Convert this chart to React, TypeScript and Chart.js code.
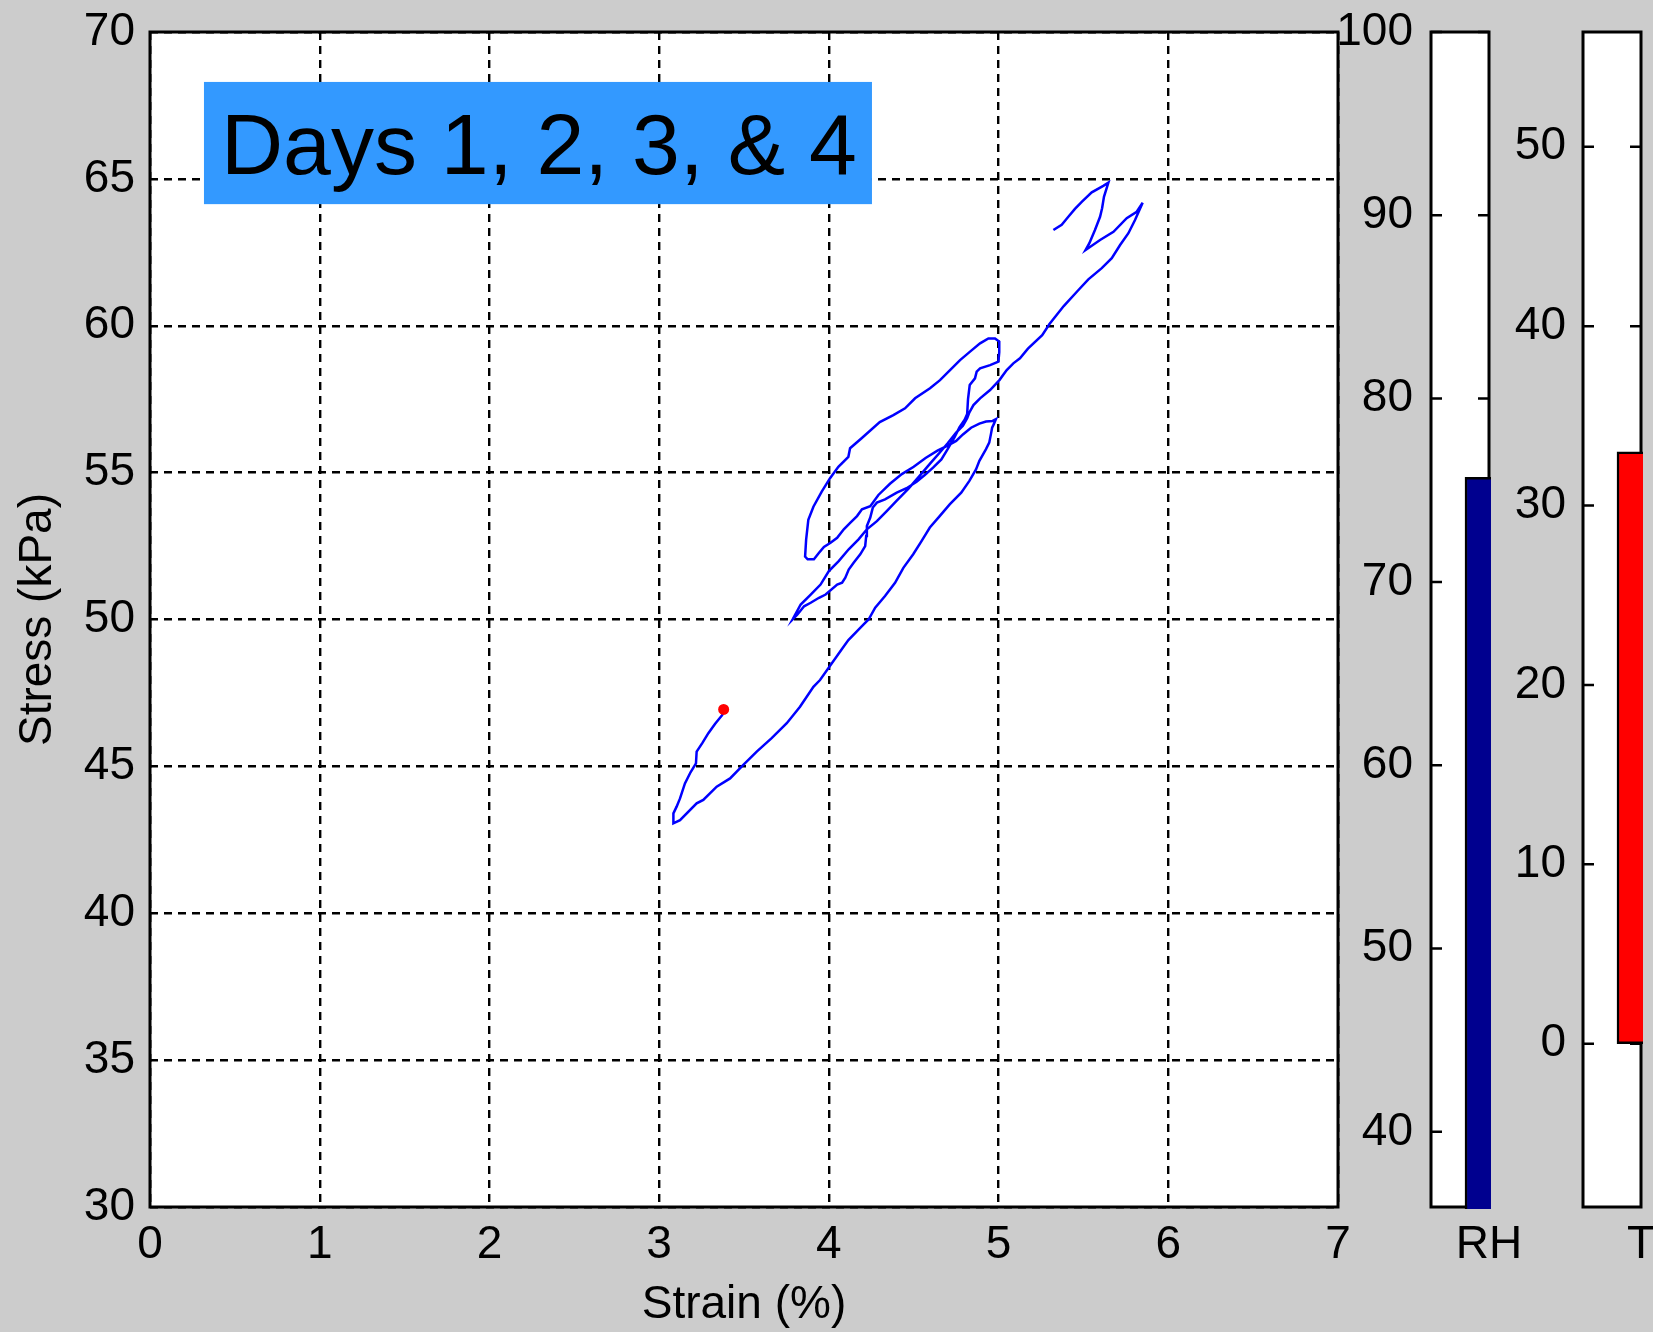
import React, { useEffect, useRef } from 'react';
import { Chart, registerables } from 'chart.js';

Chart.register(...registerables);

// ---------------- data ----------------
const strainPct: number[] = [
  // day 1 start (upper right zig-zag) and long descent
  5.323, 5.372, 5.411, 5.45, 5.49, 5.549, 5.617, 5.647, 5.621, 5.61, 5.598, 5.568, 5.535, 5.513,
  5.598, 5.677, 5.755, 5.814, 5.849, 5.804, 5.765, 5.716, 5.667, 5.608, 5.529, 5.468, 5.384, 5.3,
  5.257, 5.173, 5.126, 5.087, 5.048, 5.005, 4.95, 4.891, 4.852, 4.828,
  // down strand
  4.815, 4.79, 4.75, 4.7, 4.65, 4.6, 4.536, 4.468, 4.4, 4.341, 4.283, 4.224, 4.175, 4.117, 4.058,
  4.0, 3.951, 3.893, 3.834, 3.786,
  // up strand
  3.815, 3.854, 3.893, 3.942, 3.981, 4.049, 4.078, 4.097, 4.117, 4.146, 4.185, 4.214, 4.22, 4.224,
  4.244, 4.259, 4.283, 4.331, 4.4, 4.458, 4.517, 4.565, 4.614, 4.663, 4.7, 4.74, 4.77, 4.8, 4.815,
  4.82, 4.83,
  // upper loop
  4.861, 4.871, 4.891, 4.95, 4.999, 5.004, 5.004, 4.979, 4.94, 4.891, 4.832, 4.773, 4.714, 4.655,
  4.596, 4.508, 4.449, 4.38, 4.3, 4.193, 4.125, 4.115, 4.056, 4.007, 3.958, 3.909, 3.879, 3.866,
  3.86, 3.875, 3.912,
  // strand to the right loop
  3.942, 3.971, 4.01, 4.049, 4.088, 4.127, 4.166, 4.195, 4.244, 4.292, 4.36, 4.43, 4.5, 4.57, 4.64,
  4.7, 4.75, 4.79, 4.838, 4.887, 4.926, 4.965, 4.984,
  // right loop descent to the lowest point
  4.972, 4.962, 4.955, 4.945, 4.926, 4.887, 4.867, 4.828, 4.78, 4.712, 4.653, 4.595, 4.546, 4.497,
  4.439, 4.39, 4.331, 4.273, 4.234, 4.205, 4.115, 4.076, 3.948, 3.909, 3.83, 3.752, 3.663, 3.575,
  3.496, 3.418, 3.339, 3.26, 3.221, 3.123, 3.084,
  // final climb
  3.084, 3.103, 3.123, 3.152, 3.185, 3.217, 3.221, 3.255, 3.29, 3.33, 3.372, 3.38,
];

const stressKPa: number[] = [
  63.26, 63.44, 63.71, 63.98, 64.22, 64.54, 64.76, 64.87, 64.39, 64.0, 63.71, 63.26, 62.81, 62.58,
  62.92, 63.2, 63.66, 63.88, 64.19, 63.6, 63.15, 62.75, 62.3, 61.96, 61.58, 61.2, 60.67, 60.06,
  59.68, 59.22, 58.89, 58.72, 58.49, 58.15, 57.81, 57.53, 57.3, 57.05,
  56.85, 56.6, 56.36, 56.0, 55.66, 55.33, 54.9, 54.45, 54.05, 53.69, 53.35, 53.07, 52.73, 52.39, 51.99,
  51.65, 51.19, 50.85, 50.51, 50.0,
  50.17, 50.45, 50.57, 50.74, 50.85, 51.19, 51.25, 51.42, 51.7, 51.93, 52.22, 52.5, 52.84, 53.18,
  53.47, 53.81, 53.98, 54.09, 54.32, 54.47, 54.69, 54.92, 55.17, 55.45, 55.8, 56.2, 56.55, 56.8, 57.0,
  57.5, 57.98,
  58.21, 58.44, 58.55, 58.66, 58.78, 59.1, 59.46, 59.57, 59.57, 59.4, 59.12, 58.83, 58.49, 58.15,
  57.87, 57.53, 57.19, 56.96, 56.72, 56.17, 55.83, 55.54, 55.2, 54.81, 54.35, 53.84, 53.39, 52.71,
  52.14, 52.05, 52.05,
  52.27, 52.47, 52.61, 52.78, 53.07, 53.3, 53.52, 53.75, 53.86, 54.24, 54.62, 54.95, 55.2, 55.5, 55.75,
  55.92, 56.08, 56.3, 56.53, 56.67, 56.74, 56.76, 56.82,
  56.65, 56.53, 56.31, 56.02, 55.8, 55.4, 55.11, 54.72, 54.32, 53.92, 53.52, 53.13, 52.67, 52.22,
  51.76, 51.25, 50.8, 50.4, 50.0, 49.83, 49.3, 48.99, 47.94, 47.71, 47.03, 46.47, 45.96, 45.5,
  45.05, 44.59, 44.31, 43.86, 43.74, 43.17, 43.06,
  43.4, 43.63, 43.91, 44.42, 44.8, 45.1, 45.5, 45.8, 46.13, 46.45, 46.75, 46.94,
];

const currentStrain = 3.38;
const currentStress = 46.94;

const strainTicks = [0, 1, 2, 3, 4, 5, 6, 7];
const stressTicks = [30, 35, 40, 45, 50, 55, 60, 65, 70];
const rhTicks = [40, 50, 60, 70, 80, 90, 100];
const tempTicks = [0, 10, 20, 30, 40, 50];

const rhCategories = ['', 'RH'];
const rhValues = [null, 75.7];
const tempCategories = ['', 'T'];
const tempValues = [null, [0, 33.0]];

const panelTitle = 'Days 1, 2, 3, & 4';
const xTitle = 'Strain (%)';
const yTitle = 'Stress (kPa)';

// ---------------- styling ----------------
const FAMILY = '"Liberation Sans", Arial, Helvetica, sans-serif';
const FONT = { family: FAMILY, size: 46, lineHeight: 1.2 };
const X_TICK_PAD = 11;
const PLOT_TOP = 32;
const XAXIS_H = 125;

const setTicks = (values: number[]) => (scale: any) => {
  scale.ticks = values.map((v) => ({ value: v }));
};

const fixWidth = (w: number) => (s: any) => {
  s.width = w;
  s.paddingTop = 0;
  s.paddingBottom = 0;
  s.paddingLeft = 0;
  s.paddingRight = 0;
};
const fixHeight = (h: number) => (s: any) => {
  s.height = h;
  s.paddingTop = 0;
  s.paddingBottom = 0;
  s.paddingLeft = 0;
  s.paddingRight = 0;
};

const plotBackground = {
  id: 'plotBackground',
  beforeDraw(chart: any) {
    const { ctx, chartArea: a } = chart;
    ctx.save();
    ctx.fillStyle = '#ffffff';
    ctx.fillRect(a.left, a.top, a.right - a.left, a.bottom - a.top);
    ctx.restore();
  },
};

function strokeBox(chart: any) {
  const { ctx, chartArea: a } = chart;
  ctx.save();
  ctx.strokeStyle = '#000';
  ctx.lineWidth = 3;
  ctx.strokeRect(a.left, a.top, a.right - a.left, a.bottom - a.top);
  ctx.restore();
}

const mainBox = { id: 'mainBox', afterDatasetsDraw: (chart: any) => strokeBox(chart) };

const sidePanel = {
  id: 'sidePanel',
  beforeDatasetsDraw(chart: any) {
    strokeBox(chart);
    const { ctx, chartArea: a } = chart;
    const y = chart.scales.y;
    ctx.save();
    ctx.strokeStyle = '#000';
    ctx.lineWidth = 2.5;
    ctx.beginPath();
    y.ticks.forEach((t: any) => {
      const py = y.getPixelForValue(t.value);
      ctx.moveTo(a.left, py);
      ctx.lineTo(a.left + 11, py);
      ctx.moveTo(a.right - 11, py);
      ctx.lineTo(a.right, py);
    });
    ctx.stroke();
    ctx.restore();
  },
};

const dayLabel = {
  id: 'dayLabel',
  afterDatasetsDraw(chart: any) {
    const { ctx } = chart;
    const x = chart.scales.x;
    const y = chart.scales.y;
    const l = x.getPixelForValue(0.318);
    const r = x.getPixelForValue(4.254);
    const t = y.getPixelForValue(68.3);
    const b = y.getPixelForValue(64.14);
    ctx.save();
    ctx.fillStyle = '#3399ff';
    ctx.fillRect(l, t, r - l, b - t);
    ctx.fillStyle = '#000';
    ctx.font = `86px ${FAMILY}`;
    ctx.textAlign = 'left';
    ctx.textBaseline = 'alphabetic';
    ctx.fillText(panelTitle, l + 17, t + 92);
    ctx.restore();
  },
};

function buildMain(): any {
  const grid = { color: '#000', lineWidth: 2.4, drawTicks: false };
  const border = { display: false, dash: [8, 6] };
  return {
    type: 'scatter',
    data: {
      datasets: [
        {
          data: [{ x: currentStrain, y: currentStress }],
          pointRadius: 5.5,
          pointBackgroundColor: '#ff0000',
          pointBorderWidth: 0,
          showLine: false,
        },
        {
          data: strainPct.map((s, i) => ({ x: s, y: stressKPa[i] })),
          showLine: true,
          borderColor: '#0000ff',
          borderWidth: 2.5,
          pointRadius: 0,
          tension: 0,
          fill: false,
        },
      ],
    },
    options: {
      animation: false,
      responsive: false,
      devicePixelRatio: 1,
      events: [],
      layout: { padding: { top: PLOT_TOP, right: 22, bottom: 0, left: 0 } },
      plugins: { legend: { display: false }, tooltip: { enabled: false } },
      scales: {
        x: {
          type: 'linear',
          position: 'bottom',
          min: 0,
          max: 7,
          afterBuildTicks: setTicks(strainTicks),
          afterFit: fixHeight(XAXIS_H),
          grid,
          border,
          ticks: { color: '#000', font: FONT, padding: X_TICK_PAD, maxRotation: 0, autoSkip: false },
          title: { display: true, text: xTitle, color: '#000', font: FONT, padding: { top: 0, bottom: -1 } },
        },
        y: {
          type: 'linear',
          position: 'left',
          min: 30,
          max: 70,
          afterBuildTicks: setTicks(stressTicks),
          afterFit: fixWidth(150),
          grid,
          border,
          ticks: { color: '#000', font: FONT, padding: 15, autoSkip: false },
          title: { display: true, text: yTitle, color: '#000', font: FONT, padding: { top: 11, bottom: 0 } },
        },
      },
    },
    plugins: [plotBackground, dayLabel, mainBox],
  };
}

function buildSide(
  labels: string[],
  values: any[],
  ticks: number[],
  min: number,
  max: number,
  color: string,
  yWidth: number,
  padRight: number,
  tickPad: number,
  skip: any
): any {
  return {
    type: 'bar',
    data: {
      labels,
      datasets: [
        {
          data: values,
          backgroundColor: color,
          borderColor: '#000',
          borderWidth: 2.5,
          borderSkipped: skip,
          barThickness: 48,
          clip: { left: 0, top: 0, right: 2, bottom: 2 },
        },
      ],
    },
    options: {
      animation: false,
      responsive: false,
      devicePixelRatio: 1,
      events: [],
      layout: { padding: { top: PLOT_TOP, right: padRight, bottom: 0, left: 0 } },
      plugins: { legend: { display: false }, tooltip: { enabled: false } },
      scales: {
        x: {
          type: 'category',
          offset: false,
          afterFit: fixHeight(XAXIS_H),
          grid: { display: false, drawTicks: false },
          border: { display: false },
          ticks: { color: '#000', font: FONT, padding: X_TICK_PAD, maxRotation: 0, minRotation: 0, autoSkip: false },
        },
        y: {
          type: 'linear',
          position: 'left',
          min,
          max,
          beginAtZero: false,
          afterBuildTicks: setTicks(ticks),
          afterFit: fixWidth(yWidth),
          grid: { display: false, drawTicks: false },
          border: { display: false },
          ticks: { color: '#000', font: FONT, padding: tickPad, autoSkip: false },
        },
      },
    },
    plugins: [plotBackground, sidePanel],
  };
}

export default function App() {
  const mainRef = useRef<HTMLCanvasElement | null>(null);
  const rhRef = useRef<HTMLCanvasElement | null>(null);
  const tRef = useRef<HTMLCanvasElement | null>(null);

  useEffect(() => {
    const charts = [
      new Chart(mainRef.current as HTMLCanvasElement, buildMain()),
      new Chart(
        rhRef.current as HTMLCanvasElement,
        buildSide(rhCategories, rhValues, rhTicks, 35.9, 100, '#00008f', 111, 51, 18, 'start')
      ),
      new Chart(
        tRef.current as HTMLCanvasElement,
        buildSide(tempCategories, tempValues, tempTicks, -9.1, 56.4, '#ff0000', 83, 29, 17, false)
      ),
    ];
    return () => charts.forEach((c) => c.destroy());
  }, []);

  const cs = (left: number, width: number): React.CSSProperties => ({
    position: 'absolute',
    left,
    top: 0,
    width,
    height: 1332,
    display: 'block',
  });

  return (
    <div
      style={{
        position: 'absolute',
        left: 0,
        top: 0,
        width: 1653,
        height: 1332,
        background: '#cccccc',
        overflow: 'hidden',
      }}
    >
      <canvas ref={mainRef} width={1360} height={1332} style={cs(0, 1360)} />
      <canvas ref={rhRef} width={220} height={1332} style={cs(1320, 220)} />
      <canvas ref={tRef} width={170} height={1332} style={cs(1500, 170)} />
    </div>
  );
}
